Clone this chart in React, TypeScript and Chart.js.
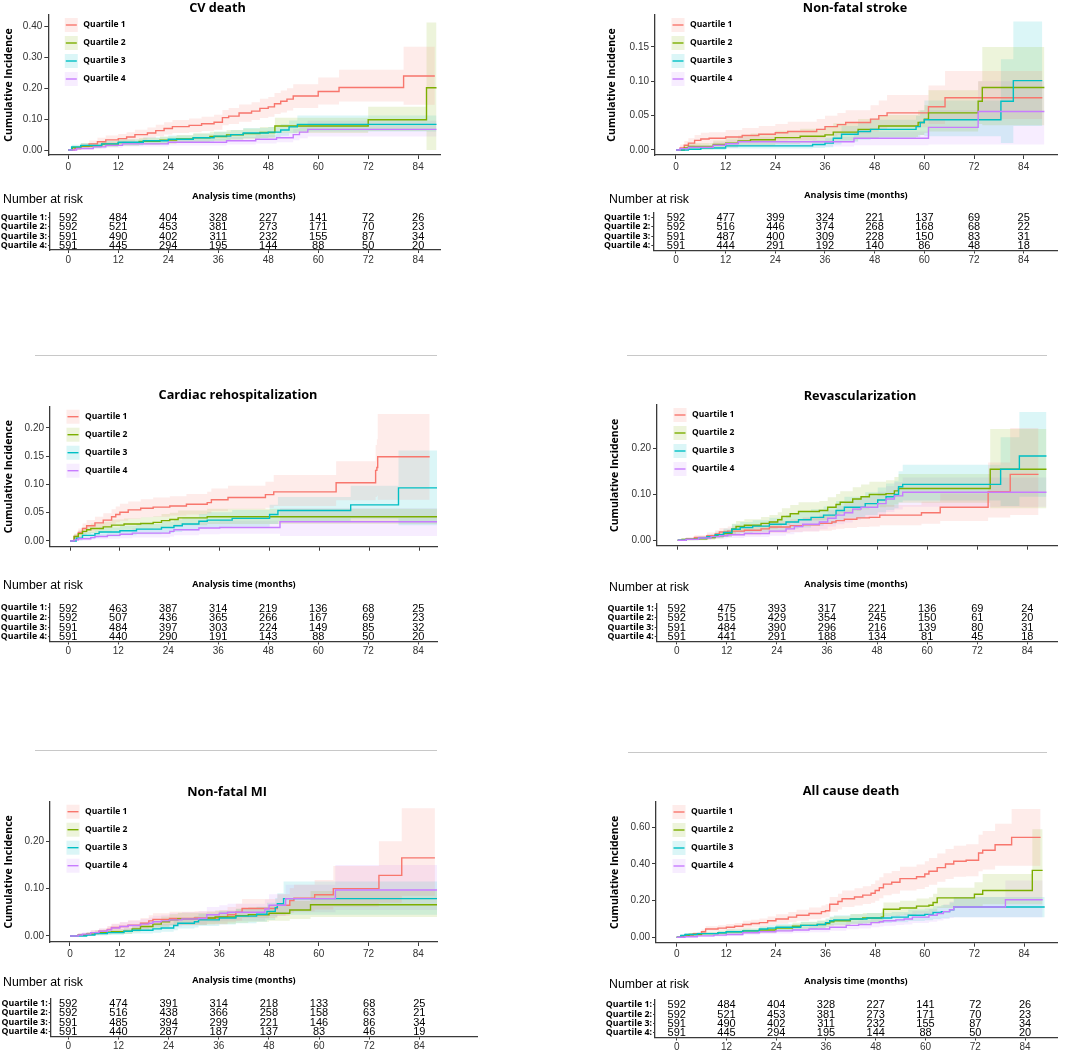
import React, { useEffect, useRef } from 'react';
import { Chart, registerables } from 'chart.js';

Chart.register(...registerables);

type Pt = [number, number, number, number]; // [month, estimate, lower CI, upper CI]

const xTicks = [0, 12, 24, 36, 48, 60, 72, 84];
const quartileLabels = ['Quartile 1', 'Quartile 2', 'Quartile 3', 'Quartile 4'];
const riskRowLabels = ['Quartile 1:', 'Quartile 2:', 'Quartile 3:', 'Quartile 4:'];
const quartileColors = ['#F8766D', '#7CAE00', '#00BFC4', '#C77CFF'];

// ---------- CV death ----------
const cvDeathQ1: Pt[] = [[0,0,0,0],[1.5,0.005,0.001,0.01],[3,0.012,0.005,0.022],[5,0.02,0.01,0.031],[7,0.027,0.015,0.04],[9,0.033,0.02,0.047],[12,0.037,0.024,0.052],[14,0.042,0.028,0.058],[16,0.05,0.034,0.066],[19,0.055,0.038,0.073],[21,0.063,0.045,0.082],[23,0.07,0.05,0.09],[25,0.076,0.055,0.097],[29,0.08,0.058,0.102],[32,0.085,0.062,0.108],[35,0.09,0.066,0.114],[37,0.105,0.08,0.13],[38.5,0.11,0.084,0.136],[41,0.12,0.092,0.148],[44,0.126,0.097,0.155],[46,0.135,0.104,0.166],[48,0.14,0.108,0.172],[49.5,0.15,0.117,0.185],[51,0.158,0.122,0.193],[52.5,0.165,0.128,0.2],[54,0.175,0.136,0.213],[60,0.19,0.148,0.235],[65,0.203,0.157,0.26],[80.5,0.24,0.147,0.335],[88,0.24,0.147,0.335]];
const cvDeathQ2: Pt[] = [[0,0,0,0],[1,0.008,0.002,0.014],[3,0.013,0.006,0.021],[8,0.019,0.01,0.028],[12,0.024,0.014,0.034],[17,0.028,0.017,0.039],[22,0.032,0.02,0.044],[26,0.036,0.023,0.049],[30,0.04,0.026,0.054],[34,0.044,0.029,0.059],[38,0.049,0.033,0.065],[42,0.053,0.036,0.07],[46,0.057,0.039,0.075],[49.6,0.078,0.055,0.105],[72,0.098,0.062,0.14],[86,0.202,0,0.414],[88.4,0.202,0,0.414]];
const cvDeathQ3: Pt[] = [[0,0,0,0],[0.8,0.01,0.003,0.017],[3,0.015,0.007,0.023],[8,0.02,0.011,0.029],[12,0.025,0.015,0.035],[18,0.03,0.019,0.041],[24,0.035,0.023,0.047],[30,0.04,0.027,0.053],[35,0.045,0.031,0.059],[39,0.05,0.035,0.065],[42,0.055,0.039,0.071],[48,0.058,0.041,0.075],[51,0.065,0.046,0.084],[53,0.075,0.054,0.096],[55,0.083,0.06,0.112],[88.4,0.083,0.06,0.112]];
const cvDeathQ4: Pt[] = [[0,0,0,0],[2,0.005,0.001,0.009],[6,0.01,0.004,0.016],[9,0.015,0.007,0.022],[13,0.02,0.011,0.029],[24,0.025,0.015,0.035],[38,0.03,0.018,0.042],[45,0.035,0.021,0.049],[50,0.04,0.025,0.056],[54,0.05,0.032,0.068],[55.5,0.058,0.038,0.078],[57.5,0.067,0.044,0.095],[88.4,0.067,0.044,0.095]];
const cvDeathRisk = [[592,484,404,328,227,141,72,26],[592,521,453,381,273,171,70,23],[591,490,402,311,232,155,87,34],[591,445,294,195,144,88,50,20]];
const cvDeathTicksY = [0, 0.1, 0.2, 0.3, 0.4];

// ---------- Non-fatal stroke ----------
const strokeQ1: Pt[] = [[0,0,0,0],[1,0.003,0,0.008],[2,0.007,0.002,0.013],[3,0.01,0.004,0.017],[4.5,0.014,0.007,0.022],[6,0.016,0.008,0.025],[8,0.017,0.009,0.026],[12,0.019,0.01,0.029],[16,0.021,0.011,0.032],[20,0.023,0.013,0.035],[24,0.025,0.014,0.038],[27,0.027,0.015,0.041],[34,0.03,0.017,0.045],[36,0.034,0.02,0.05],[39,0.037,0.022,0.054],[41,0.04,0.024,0.058],[47,0.045,0.027,0.065],[49,0.05,0.03,0.072],[51,0.054,0.033,0.08],[61,0.063,0.038,0.094],[65,0.076,0.045,0.115],[88.5,0.076,0.045,0.115]];
const strokeQ2: Pt[] = [[0,0,0,0],[2,0.003,0,0.007],[3,0.005,0.001,0.01],[9,0.008,0.003,0.014],[12,0.01,0.004,0.017],[15,0.013,0.006,0.021],[18,0.015,0.007,0.024],[24,0.018,0.009,0.028],[30,0.02,0.01,0.031],[36,0.022,0.011,0.034],[38,0.026,0.014,0.039],[44,0.03,0.016,0.045],[49,0.035,0.019,0.051],[58.5,0.04,0.022,0.058],[60,0.045,0.025,0.065],[61,0.054,0.027,0.087],[73,0.071,0.038,0.1],[74,0.091,0.036,0.15],[89,0.091,0.036,0.15]];
const strokeQ3: Pt[] = [[0,0,0,0],[3,0.001,0,0.003],[6,0.003,0,0.006],[12,0.006,0.002,0.011],[33,0.008,0.003,0.014],[36,0.01,0.004,0.017],[38,0.017,0.008,0.027],[40,0.023,0.012,0.035],[44,0.027,0.015,0.04],[47,0.03,0.017,0.044],[58,0.034,0.019,0.05],[59,0.04,0.022,0.058],[60,0.044,0.02,0.072],[78.5,0.071,0.01,0.132],[81.5,0.101,0.035,0.187],[88.5,0.101,0.035,0.187]];
const strokeQ4: Pt[] = [[0,0,0,0],[1,0.002,0,0.005],[3,0.004,0.001,0.008],[9,0.007,0.002,0.012],[12,0.009,0.003,0.015],[15,0.012,0.005,0.019],[43,0.017,0.007,0.027],[61,0.033,0.008,0.058],[73,0.056,0.008,0.1],[89,0.056,0.008,0.1]];
const strokeRisk = [[592,477,399,324,221,137,69,25],[592,516,446,374,268,168,68,22],[591,487,400,309,228,150,83,31],[591,444,291,192,140,86,48,18]];
const strokeTicksY = [0, 0.05, 0.1, 0.15];

// ---------- Cardiac rehospitalization ----------
const rehospQ1: Pt[] = [[0,0,0,0],[1,0.008,0.003,0.013],[2,0.015,0.008,0.022],[3,0.022,0.013,0.031],[4,0.027,0.017,0.037],[6,0.032,0.021,0.043],[8,0.037,0.025,0.049],[10,0.043,0.03,0.056],[11,0.047,0.033,0.061],[12,0.051,0.036,0.066],[14,0.055,0.039,0.07],[17,0.058,0.042,0.074],[20,0.06,0.043,0.077],[24,0.062,0.045,0.079],[28,0.065,0.047,0.083],[33,0.068,0.049,0.087],[34,0.073,0.053,0.093],[38,0.077,0.056,0.098],[47,0.082,0.059,0.105],[49,0.087,0.062,0.117],[64,0.103,0.072,0.141],[73.5,0.125,0.078,0.17],[73.8,0.13,0.08,0.18],[74,0.149,0.073,0.225],[86.5,0.149,0.073,0.225]];
const rehospQ2: Pt[] = [[0,0,0,0],[1,0.008,0.003,0.013],[2,0.013,0.007,0.019],[3,0.017,0.01,0.024],[4,0.02,0.012,0.028],[5,0.022,0.014,0.031],[8,0.025,0.016,0.034],[10,0.028,0.018,0.038],[13,0.03,0.02,0.04],[17,0.031,0.021,0.042],[20,0.033,0.022,0.044],[22,0.036,0.024,0.048],[24,0.038,0.026,0.05],[26,0.041,0.028,0.054],[33,0.043,0.03,0.057],[88.5,0.043,0.03,0.057]];
const rehospQ3: Pt[] = [[0,0,0,0],[1.5,0.005,0.001,0.009],[3,0.01,0.004,0.016],[6,0.013,0.006,0.02],[7,0.016,0.008,0.024],[12,0.018,0.01,0.027],[16,0.021,0.012,0.03],[22,0.024,0.014,0.034],[25,0.027,0.016,0.038],[27,0.03,0.018,0.042],[31,0.035,0.022,0.048],[33,0.037,0.023,0.051],[39,0.04,0.025,0.055],[48,0.047,0.03,0.064],[50,0.054,0.035,0.078],[67.5,0.064,0.04,0.098],[79,0.094,0.028,0.16],[88.5,0.094,0.028,0.16]];
const rehospQ4: Pt[] = [[0,0,0,0],[1,0.002,0,0.005],[2,0.004,0.001,0.008],[5,0.006,0.002,0.011],[6,0.008,0.003,0.013],[9,0.01,0.004,0.016],[12,0.012,0.005,0.019],[15,0.014,0.006,0.022],[24,0.017,0.008,0.026],[25,0.02,0.01,0.03],[31,0.023,0.012,0.034],[36,0.024,0.013,0.036],[50.5,0.034,0.009,0.058],[88.5,0.034,0.009,0.058]];
const rehospRisk = [[592,463,387,314,219,136,68,25],[592,507,436,365,266,167,69,23],[591,484,397,303,224,149,85,32],[591,440,290,191,143,88,50,20]];
const rehospTicksY = [0, 0.05, 0.1, 0.15, 0.2];

// ---------- Revascularization ----------
const revascQ1: Pt[] = [[0,0,0,0],[2,0.003,0,0.007],[4,0.006,0.001,0.011],[7,0.01,0.003,0.017],[9,0.014,0.006,0.022],[10,0.018,0.009,0.027],[12,0.02,0.01,0.03],[16,0.022,0.011,0.033],[20,0.025,0.013,0.037],[22,0.029,0.016,0.042],[27,0.032,0.018,0.046],[30,0.034,0.019,0.049],[34,0.037,0.021,0.053],[37,0.04,0.023,0.057],[38,0.043,0.025,0.061],[40,0.046,0.027,0.065],[43,0.049,0.029,0.069],[46,0.05,0.03,0.07],[48.5,0.055,0.033,0.077],[58.5,0.06,0.036,0.084],[63,0.072,0.042,0.102],[74.5,0.106,0.05,0.17],[79.8,0.144,0.055,0.245],[86.6,0.144,0.055,0.245]];
const revascQ2: Pt[] = [[0,0,0,0],[1,0.002,0,0.005],[4,0.003,0,0.007],[7,0.006,0.001,0.011],[9,0.01,0.004,0.016],[11,0.015,0.007,0.023],[13,0.025,0.014,0.036],[14,0.03,0.018,0.042],[16,0.033,0.02,0.046],[20,0.037,0.023,0.051],[22,0.04,0.025,0.055],[24,0.045,0.029,0.061],[25,0.052,0.034,0.07],[27,0.058,0.039,0.077],[29,0.063,0.043,0.083],[34,0.065,0.044,0.086],[36,0.072,0.05,0.094],[38,0.078,0.055,0.101],[39,0.083,0.059,0.107],[42,0.09,0.064,0.116],[44,0.095,0.068,0.122],[46,0.1,0.072,0.128],[50,0.102,0.073,0.131],[52,0.108,0.078,0.138],[53,0.113,0.082,0.145],[75,0.155,0.07,0.243],[88.5,0.155,0.07,0.243]];
const revascQ3: Pt[] = [[0,0,0,0],[2,0.002,0,0.005],[5,0.005,0.001,0.009],[7,0.008,0.003,0.013],[9,0.012,0.005,0.019],[11,0.017,0.008,0.026],[13,0.024,0.013,0.035],[15,0.028,0.016,0.04],[18,0.031,0.018,0.044],[22,0.035,0.021,0.049],[26,0.04,0.025,0.055],[29,0.045,0.028,0.062],[32,0.05,0.032,0.068],[35,0.055,0.036,0.074],[38,0.065,0.044,0.086],[40,0.072,0.049,0.095],[45,0.08,0.055,0.105],[48,0.088,0.061,0.115],[50,0.095,0.066,0.124],[52,0.1,0.07,0.13],[53,0.117,0.083,0.151],[54,0.122,0.087,0.165],[77.5,0.155,0.075,0.225],[82,0.184,0.095,0.28],[88.5,0.184,0.095,0.28]];
const revascQ4: Pt[] = [[0,0,0,0],[2,0.002,0,0.005],[5,0.005,0.001,0.009],[8,0.008,0.003,0.013],[10,0.01,0.004,0.016],[12,0.012,0.005,0.019],[16,0.015,0.007,0.023],[22,0.02,0.01,0.03],[26,0.025,0.013,0.037],[28,0.03,0.017,0.043],[30,0.035,0.02,0.05],[34,0.04,0.024,0.056],[36,0.048,0.03,0.066],[38,0.055,0.035,0.075],[40,0.06,0.039,0.081],[42,0.068,0.045,0.091],[44,0.072,0.048,0.096],[48,0.08,0.054,0.106],[50,0.09,0.062,0.118],[52,0.097,0.067,0.127],[54,0.105,0.073,0.137],[88.5,0.105,0.073,0.137]];
const revascRisk = [[592,475,393,317,221,136,69,24],[592,515,429,354,245,150,61,20],[591,484,390,296,216,139,80,31],[591,441,291,188,134,81,45,18]];
const revascTicksY = [0, 0.1, 0.2];

// ---------- Non-fatal MI ----------
const miQ1: Pt[] = [[0,0,0,0],[2,0.002,0,0.005],[4,0.004,0.001,0.008],[5,0.007,0.002,0.012],[7,0.01,0.004,0.016],[9,0.014,0.007,0.021],[10,0.018,0.01,0.026],[12,0.02,0.011,0.029],[14,0.023,0.013,0.033],[17,0.027,0.016,0.038],[19,0.032,0.02,0.044],[20,0.035,0.022,0.048],[24,0.037,0.023,0.051],[30,0.038,0.024,0.052],[36,0.04,0.025,0.055],[38,0.045,0.029,0.061],[40,0.05,0.032,0.068],[41.5,0.058,0.038,0.078],[50,0.065,0.042,0.088],[53,0.075,0.049,0.101],[54,0.08,0.052,0.108],[59,0.087,0.056,0.118],[63.5,0.1,0.062,0.148],[74.5,0.128,0.07,0.2],[80,0.165,0.085,0.27],[88,0.165,0.085,0.27]];
const miQ2: Pt[] = [[0,0,0,0],[2,0.002,0,0.005],[4,0.004,0.001,0.008],[6,0.007,0.002,0.012],[8,0.008,0.003,0.013],[10,0.009,0.004,0.015],[13,0.01,0.004,0.016],[15,0.015,0.008,0.022],[17,0.02,0.011,0.029],[20,0.025,0.015,0.035],[22,0.03,0.019,0.041],[24,0.034,0.022,0.046],[26,0.036,0.023,0.049],[33,0.038,0.025,0.051],[35,0.04,0.026,0.054],[40,0.043,0.028,0.058],[43,0.045,0.03,0.061],[48,0.048,0.032,0.065],[53,0.055,0.036,0.074],[58,0.066,0.04,0.095],[88.5,0.066,0.04,0.095]];
const miQ3: Pt[] = [[0,0,0,0],[4,0.002,0,0.005],[6,0.005,0.001,0.009],[9,0.007,0.002,0.012],[13,0.01,0.004,0.016],[15,0.012,0.005,0.019],[20,0.015,0.007,0.023],[22,0.017,0.009,0.026],[25,0.022,0.012,0.032],[26,0.027,0.016,0.038],[30,0.03,0.018,0.042],[31,0.034,0.021,0.047],[36,0.038,0.024,0.052],[40,0.042,0.027,0.057],[45,0.046,0.03,0.062],[47.5,0.052,0.034,0.07],[49.5,0.06,0.04,0.08],[50,0.068,0.045,0.09],[51.5,0.079,0.045,0.115],[88.5,0.079,0.045,0.115]];
const miQ4: Pt[] = [[0,0,0,0],[2,0.002,0,0.005],[3,0.004,0.001,0.008],[5,0.007,0.002,0.012],[7,0.01,0.004,0.016],[9,0.013,0.006,0.02],[10,0.017,0.009,0.025],[12,0.02,0.011,0.029],[14,0.022,0.012,0.032],[17,0.025,0.014,0.036],[19,0.027,0.016,0.039],[20,0.03,0.018,0.043],[22,0.032,0.019,0.045],[24,0.034,0.02,0.048],[27,0.036,0.022,0.05],[31,0.037,0.023,0.052],[33,0.045,0.029,0.061],[36,0.048,0.031,0.065],[38,0.05,0.032,0.068],[47,0.057,0.037,0.077],[48,0.065,0.042,0.088],[52,0.079,0.05,0.108],[64,0.097,0.055,0.15],[88.5,0.097,0.055,0.15]];
const miRisk = [[592,474,391,314,218,133,68,25],[592,516,438,366,258,158,63,21],[591,485,394,299,221,146,86,34],[591,440,287,187,137,83,46,19]];
const miTicksY = [0, 0.1, 0.2];

// ---------- All cause death ----------
const allDeathQ1: Pt[] = [[0,0,0,0],[1,0.005,0.001,0.009],[2,0.012,0.005,0.019],[4,0.02,0.011,0.029],[6,0.03,0.018,0.042],[7,0.045,0.03,0.06],[10,0.05,0.034,0.066],[12,0.055,0.038,0.072],[14,0.06,0.042,0.078],[16,0.07,0.05,0.09],[18,0.075,0.054,0.096],[20,0.08,0.058,0.102],[22,0.09,0.066,0.114],[24,0.1,0.074,0.126],[27,0.11,0.082,0.138],[29,0.12,0.09,0.15],[32,0.13,0.098,0.162],[35,0.14,0.106,0.174],[36,0.145,0.11,0.18],[37,0.18,0.14,0.22],[39,0.195,0.152,0.238],[40,0.21,0.165,0.255],[43,0.22,0.173,0.267],[45,0.23,0.181,0.279],[47,0.24,0.189,0.291],[48,0.255,0.2,0.31],[49,0.27,0.213,0.327],[50,0.29,0.23,0.35],[52,0.3,0.238,0.362],[54,0.32,0.255,0.385],[58,0.33,0.263,0.397],[60,0.345,0.275,0.415],[61,0.36,0.287,0.433],[63,0.38,0.303,0.457],[65,0.4,0.318,0.482],[67,0.415,0.33,0.5],[70,0.42,0.333,0.507],[73,0.46,0.36,0.56],[74,0.475,0.37,0.58],[77,0.505,0.39,0.62],[81,0.545,0.39,0.7],[88,0.545,0.39,0.7]];
const allDeathQ2: Pt[] = [[0,0,0,0],[1,0.008,0.003,0.013],[3,0.015,0.007,0.023],[6,0.02,0.011,0.029],[10,0.025,0.014,0.036],[12,0.03,0.018,0.042],[16,0.035,0.022,0.048],[20,0.04,0.025,0.055],[24,0.05,0.033,0.067],[28,0.06,0.041,0.079],[30,0.065,0.045,0.085],[34,0.07,0.049,0.091],[36,0.075,0.053,0.097],[37,0.085,0.061,0.109],[38,0.09,0.065,0.115],[42,0.1,0.073,0.127],[45,0.105,0.077,0.133],[49.5,0.11,0.08,0.14],[50,0.153,0.115,0.19],[54,0.16,0.12,0.2],[58,0.17,0.128,0.212],[61,0.175,0.131,0.219],[62,0.19,0.142,0.238],[63,0.215,0.16,0.27],[72,0.235,0.17,0.3],[74,0.255,0.18,0.345],[86,0.365,0.18,0.59],[88.5,0.365,0.18,0.59]];
const allDeathQ3: Pt[] = [[0,0,0,0],[1,0.01,0.004,0.016],[2,0.015,0.007,0.023],[5,0.02,0.011,0.029],[10,0.025,0.015,0.035],[12,0.03,0.018,0.042],[16,0.035,0.022,0.048],[20,0.045,0.03,0.06],[22,0.05,0.034,0.066],[24,0.055,0.038,0.072],[30,0.065,0.046,0.084],[34,0.07,0.05,0.09],[36,0.08,0.058,0.102],[37,0.09,0.066,0.114],[38,0.095,0.07,0.12],[42,0.1,0.074,0.126],[46,0.105,0.078,0.132],[52,0.11,0.082,0.138],[56,0.12,0.089,0.151],[60,0.125,0.093,0.157],[62,0.135,0.1,0.17],[64,0.14,0.104,0.176],[66,0.15,0.11,0.19],[67,0.165,0.11,0.22],[89,0.165,0.11,0.22]];
const allDeathQ4: Pt[] = [[0,0,0,0],[2,0.003,0,0.006],[5,0.008,0.003,0.013],[9,0.012,0.005,0.019],[12,0.015,0.007,0.023],[16,0.025,0.014,0.036],[20,0.03,0.018,0.042],[24,0.035,0.021,0.049],[28,0.04,0.025,0.055],[32,0.045,0.028,0.062],[37,0.055,0.036,0.074],[41,0.065,0.044,0.086],[44,0.07,0.048,0.092],[47,0.08,0.055,0.105],[49,0.085,0.059,0.111],[50,0.09,0.063,0.117],[53,0.095,0.067,0.123],[55,0.1,0.07,0.13],[57,0.11,0.078,0.142],[61,0.12,0.085,0.155],[63,0.13,0.092,0.168],[64.5,0.14,0.1,0.18],[66,0.15,0.105,0.195],[67,0.165,0.11,0.22],[79.5,0.205,0.11,0.31],[88.5,0.205,0.11,0.31]];
const allDeathRisk = [[592,484,404,328,227,141,72,26],[592,521,453,381,273,171,70,23],[591,490,402,311,232,155,87,34],[591,445,294,195,144,88,50,20]];
const allDeathTicksY = [0, 0.2, 0.4, 0.6];

// ---------- layout ----------
interface Box { x: number; y: number; w: number; h: number }
interface Area { l: number; t: number; r: number; b: number }
interface PanelCfg {
  title: string; titlePos: [number, number];
  curves: Pt[][]; yTicks: number[]; risk: number[][];
  plotBox: Box; plotArea: Area; plotX: [number, number]; plotY: [number, number]; showXLabels: boolean;
  tableBox: Box; tableArea: Area; tableX: [number, number];
  narPos: [number, number]; analysisPos: [number, number];
}

const panels: PanelCfg[] = [
  { title: 'CV death', titlePos: [217.5, 8], curves: [cvDeathQ1, cvDeathQ2, cvDeathQ3, cvDeathQ4], yTicks: cvDeathTicksY, risk: cvDeathRisk,
    plotBox: { x: 0, y: 0, w: 446, h: 176 }, plotArea: { l: 48.3, t: 15, r: 440, b: 155 }, plotX: [-4.8, 89.24], plotY: [-0.0162, 0.438], showXLabels: true,
    tableBox: { x: 0, y: 185, w: 446, h: 85 }, tableArea: { l: 50, t: 213, r: 440, b: 250 }, tableX: [-4.39, 89.24],
    narPos: [3, 199.3], analysisPos: [244, 196] },
  { title: 'Non-fatal stroke', titlePos: [855, 8], curves: [strokeQ1, strokeQ2, strokeQ3, strokeQ4], yTicks: strokeTicksY, risk: strokeRisk,
    plotBox: { x: 603, y: 0, w: 460, h: 176 }, plotArea: { l: 655, t: 15, r: 1057, b: 155 }, plotX: [-5.07, 92.05], plotY: [-0.0073, 0.1966], showXLabels: true,
    tableBox: { x: 603, y: 185, w: 460, h: 85 }, tableArea: { l: 653.3, t: 212.5, r: 1057, b: 250.5 }, tableX: [-5.48, 92.05],
    narPos: [609, 199.3], analysisPos: [856, 195] },
  { title: 'Cardiac rehospitalization', titlePos: [238, 395], curves: [rehospQ1, rehospQ2, rehospQ3, rehospQ4], yTicks: rehospTicksY, risk: rehospRisk,
    plotBox: { x: 0, y: 385, w: 446, h: 180 }, plotArea: { l: 50, t: 406.7, r: 437, b: 546.7 }, plotX: [-4.81, 88.26], plotY: [-0.0101, 0.2377], showXLabels: false,
    tableBox: { x: 0, y: 572, w: 446, h: 86 }, tableArea: { l: 50, t: 603.2, r: 437, b: 641.5 }, tableX: [-4.39, 88.49],
    narPos: [3, 586], analysisPos: [244, 584] },
  { title: 'Revascularization', titlePos: [860, 396.7], curves: [revascQ1, revascQ2, revascQ3, revascQ4], yTicks: revascTicksY, risk: revascRisk,
    plotBox: { x: 606, y: 385, w: 457, h: 180 }, plotArea: { l: 657, t: 405, r: 1057, b: 545.7 }, plotX: [-4.97, 91.03], plotY: [-0.0118, 0.2954], showXLabels: false,
    tableBox: { x: 603, y: 572, w: 460, h: 86 }, tableArea: { l: 656.7, t: 603.6, r: 1057, b: 641.4 }, tableX: [-4.79, 91.1],
    narPos: [609, 587.7], analysisPos: [856, 584] },
  { title: 'Non-fatal MI', titlePos: [227, 792.5], curves: [miQ1, miQ2, miQ3, miQ4], yTicks: miTicksY, risk: miRisk,
    plotBox: { x: 0, y: 780, w: 446, h: 180 }, plotArea: { l: 50, t: 801.7, r: 437, b: 942 }, plotX: [-4.82, 88.5], plotY: [-0.0127, 0.2836], showXLabels: true,
    tableBox: { x: 0, y: 968, w: 480, h: 89 }, tableArea: { l: 50.7, t: 998.5, r: 477, b: 1036.5 }, tableX: [-4.21, 97.8],
    narPos: [3, 982.7], analysisPos: [244, 980.7] },
  { title: 'All cause death', titlePos: [851, 791], curves: [allDeathQ1, allDeathQ2, allDeathQ3, allDeathQ4], yTicks: allDeathTicksY, risk: allDeathRisk,
    plotBox: { x: 606, y: 780, w: 457, h: 180 }, plotArea: { l: 656, t: 802, r: 1057, b: 942.7 }, plotX: [-5.0, 91.97], plotY: [-0.0295, 0.738], showXLabels: true,
    tableBox: { x: 603, y: 968, w: 460, h: 89 }, tableArea: { l: 655, t: 1000, r: 1057, b: 1037.5 }, tableX: [-5.23, 91.7],
    narPos: [609, 985], analysisPos: [856, 981.7] },
];

const separators = [
  { x: 35, y: 355, w: 402 }, { x: 627, y: 355, w: 420 },
  { x: 35, y: 750, w: 402 }, { x: 628, y: 752, w: 419 },
];

const boldFamily = "'Open Sans', 'Noto Sans', sans-serif";
const plainFamily = "'Liberation Sans', Arial, sans-serif";
const narrowFamily = "'Liberation Sans Narrow', 'Liberation Sans', Arial, sans-serif";
const axisColor = '#3a3a3a';
const tickColor = '#333333';
const bandAlpha = 0.14;

function rgba(hex: string, a: number) {
  const n = parseInt(hex.slice(1), 16);
  return `rgba(${(n >> 16) & 255},${(n >> 8) & 255},${n & 255},${a})`;
}

function axisStyle(tickLength: number) {
  return {
    grid: { display: true, drawOnChartArea: false, drawTicks: true, tickLength, color: axisColor, lineWidth: 1 },
    border: { display: true, color: axisColor, width: 1.3 },
  };
}

function PlotChart({ p }: { p: PanelCfg }) {
  const ref = useRef<HTMLCanvasElement>(null);
  const box = p.plotBox;
  useEffect(() => {
    const c = ref.current;
    if (!c) return;
    const a = p.plotArea;
    const datasets: any[] = [];
    p.curves.forEach((curve, qi) => {
      const col = quartileColors[qi];
      datasets.push({
        label: quartileLabels[qi] + ' upper', data: curve.map((q) => ({ x: q[0], y: q[3] })),
        stepped: true, borderWidth: 0, borderColor: 'rgba(0,0,0,0)', backgroundColor: rgba(col, bandAlpha),
        pointRadius: 0, fill: '+1', order: 10,
      });
      datasets.push({
        label: quartileLabels[qi] + ' lower', data: curve.map((q) => ({ x: q[0], y: q[2] })),
        stepped: true, borderWidth: 0, borderColor: 'rgba(0,0,0,0)', backgroundColor: 'rgba(0,0,0,0)',
        pointRadius: 0, fill: false, order: 10,
      });
      datasets.push({
        label: quartileLabels[qi], data: curve.map((q) => ({ x: q[0], y: q[1] })),
        stepped: true, borderColor: col, borderWidth: 1.4, pointRadius: 0, fill: false, order: 4 - qi,
      });
    });
    const decor = {
      id: 'decor',
      afterDraw(chart: any) {
        const ctx = chart.ctx;
        const ca = chart.chartArea;
        ctx.save();
        quartileLabels.forEach((lab, i) => {
          const cy = ca.top + 10 + i * 18;
          const kx = ca.left + 16.5;
          ctx.fillStyle = rgba(quartileColors[i], bandAlpha);
          ctx.fillRect(kx, cy - 7, 13, 14);
          ctx.strokeStyle = quartileColors[i];
          ctx.lineWidth = 1.4;
          ctx.beginPath();
          ctx.moveTo(kx + 1, cy);
          ctx.lineTo(kx + 12, cy);
          ctx.stroke();
          ctx.fillStyle = '#000';
          ctx.font = `bold 8.5px ${boldFamily}`;
          ctx.textAlign = 'left';
          ctx.textBaseline = 'middle';
          ctx.fillText(lab, ca.left + 35, cy);
        });
        ctx.font = `bold 12.7px ${boldFamily}`;
        ctx.fillStyle = '#000';
        ctx.textAlign = 'center';
        ctx.textBaseline = 'middle';
        ctx.fillText(p.title, p.titlePos[0] - box.x, p.titlePos[1] - box.y);
        ctx.restore();
      },
    };
    const yW = a.l - box.x;
    const xH = box.y + box.h - a.b;
    const chart = new Chart(c, {
      type: 'line',
      data: { datasets },
      options: {
        animation: false, responsive: false, maintainAspectRatio: false, events: [],
        layout: { padding: { left: 0, top: a.t - box.y, right: box.x + box.w - a.r, bottom: 0 } },
        plugins: { legend: { display: false }, tooltip: { enabled: false }, title: { display: false } },
        scales: {
          x: {
            type: 'linear', min: p.plotX[0], max: p.plotX[1], bounds: 'data',
            afterBuildTicks: (s: any) => { s.ticks = xTicks.map((v) => ({ value: v })); },
            afterFit: (s: any) => { s.height = xH; },
            ...axisStyle(4),
            ticks: {
              display: p.showXLabels, color: tickColor, font: { family: plainFamily, size: 10 }, padding: 2,
              maxRotation: 0, autoSkip: false, callback: (v: any) => String(v),
            },
          },
          y: {
            type: 'linear', min: p.plotY[0], max: p.plotY[1], bounds: 'data',
            afterBuildTicks: (s: any) => { s.ticks = p.yTicks.map((v) => ({ value: v })); },
            afterFit: (s: any) => { s.width = yW; },
            ...axisStyle(4),
            ticks: { color: tickColor, font: { family: plainFamily, size: 10 }, padding: 2, autoSkip: false, callback: (v: any) => Number(v).toFixed(2) },
            title: { display: true, text: 'Cumulative Incidence', color: '#000', font: { family: boldFamily, size: 10.5, weight: 'bold' }, padding: { top: 3, bottom: 0 } },
          },
        },
      } as any,
      plugins: [decor],
    });
    return () => chart.destroy();
  }, [p]);
  return <canvas ref={ref} width={box.w} height={box.h} style={{ position: 'absolute', left: box.x, top: box.y, width: box.w, height: box.h }} />;
}

function TableChart({ p }: { p: PanelCfg }) {
  const ref = useRef<HTMLCanvasElement>(null);
  const box = p.tableBox;
  useEffect(() => {
    const c = ref.current;
    if (!c) return;
    const a = p.tableArea;
    const datasets = p.risk.map((row, qi) => ({
      label: riskRowLabels[qi],
      data: xTicks.map((t) => ({ x: t, y: riskRowLabels[qi] })),
      showLine: false, pointRadius: 0, borderColor: 'rgba(0,0,0,0)', backgroundColor: 'rgba(0,0,0,0)',
    }));
    const numbers = {
      id: 'numbers',
      afterDatasetsDraw(chart: any) {
        const ctx = chart.ctx;
        ctx.save();
        ctx.fillStyle = '#000';
        ctx.font = `11px ${narrowFamily}`;
        ctx.textAlign = 'center';
        ctx.textBaseline = 'middle';
        p.risk.forEach((row, qi) => {
          const meta = chart.getDatasetMeta(qi);
          meta.data.forEach((el: any, j: number) => {
            ctx.fillText(String(row[j]), el.x, el.y + 0.5);
          });
        });
        ctx.font = `12.3px ${plainFamily}`;
        ctx.textAlign = 'left';
        ctx.fillText('Number at risk', p.narPos[0] - box.x, p.narPos[1] - box.y);
        ctx.font = `bold 9px ${boldFamily}`;
        ctx.textAlign = 'center';
        ctx.fillText('Analysis time (months)', p.analysisPos[0] - box.x, p.analysisPos[1] - box.y);
        ctx.restore();
      },
    };
    const yW = a.l - box.x;
    const xH = box.y + box.h - a.b;
    const chart = new Chart(c, {
      type: 'line',
      data: { datasets },
      options: {
        animation: false, responsive: false, maintainAspectRatio: false, events: [],
        layout: { padding: { left: 0, top: a.t - box.y, right: box.x + box.w - a.r, bottom: 0 } },
        plugins: { legend: { display: false }, tooltip: { enabled: false }, title: { display: false } },
        scales: {
          x: {
            type: 'linear', min: p.tableX[0], max: p.tableX[1], bounds: 'data',
            afterBuildTicks: (s: any) => { s.ticks = xTicks.map((v) => ({ value: v })); },
            afterFit: (s: any) => { s.height = xH; },
            ...axisStyle(3),
            ticks: { color: tickColor, font: { family: plainFamily, size: 10 }, padding: 1, maxRotation: 0, autoSkip: false, callback: (v: any) => String(v) },
          },
          y: {
            type: 'category', labels: riskRowLabels, offset: true,
            afterFit: (s: any) => { s.width = yW; },
            grid: { display: true, drawOnChartArea: false, drawTicks: true, tickLength: 2, offset: false, color: axisColor, lineWidth: 1 },
            border: { display: true, color: axisColor, width: 1.3 },
            ticks: { color: '#000', font: { family: boldFamily, size: 8.8, weight: 'bold' }, padding: 1, autoSkip: false },
          },
        },
      } as any,
      plugins: [numbers],
    });
    return () => chart.destroy();
  }, [p]);
  return <canvas ref={ref} width={box.w} height={box.h} style={{ position: 'absolute', left: box.x, top: box.y, width: box.w, height: box.h }} />;
}

export default function App() {
  return (
    <div style={{ position: 'absolute', left: 0, top: 0, width: 1084, height: 1057, background: '#fff', overflow: 'hidden' }}>
      {panels.map((p) => (
        <React.Fragment key={p.title}>
          <PlotChart p={p} />
          <TableChart p={p} />
        </React.Fragment>
      ))}
      {separators.map((s, i) => (
        <div key={i} style={{ position: 'absolute', left: s.x, top: s.y, width: s.w, height: 1, background: '#c8c8c8' }} />
      ))}
    </div>
  );
}
